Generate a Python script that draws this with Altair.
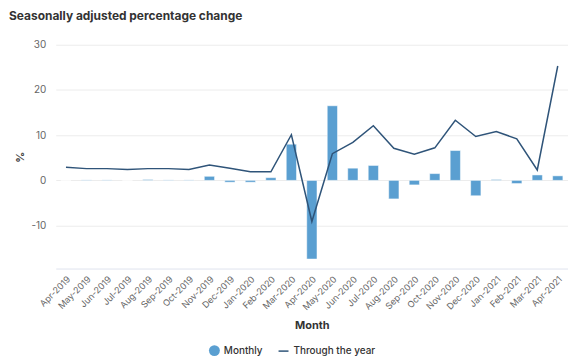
import altair as alt
import pandas as pd

months = ["Apr-2019", "May-2019", "Jun-2019", "Jul-2019", "Aug-2019", "Sep-2019",
          "Oct-2019", "Nov-2019", "Dec-2019", "Jan-2020", "Feb-2020", "Mar-2020",
          "Apr-2020", "May-2020", "Jun-2020", "Jul-2020", "Aug-2020", "Sep-2020",
          "Oct-2020", "Nov-2020", "Dec-2020", "Jan-2021", "Feb-2021", "Mar-2021",
          "Apr-2021"]
monthly = [0.0, 0.1, 0.1, 0.0, 0.2, 0.1, 0.1, 0.9, -0.4, -0.4, 0.6, 8.0,
           -17.4, 16.5, 2.7, 3.3, -4.1, -1.0, 1.5, 6.6, -3.4, 0.2, -0.7, 1.2, 1.0]
through_year = [2.9, 2.6, 2.6, 2.4, 2.6, 2.6, 2.4, 3.4, 2.7, 1.9, 1.9, 10.1,
                -9.1, 5.9, 8.4, 12.1, 7.1, 5.8, 7.2, 13.3, 9.7, 10.8, 9.2, 2.3, 25.3]

df = pd.DataFrame({
    "Month": months,
    "Monthly": monthly,
    "Through": through_year,
    "s1": ["Monthly"] * len(months),
    "s2": ["Through the year"] * len(months),
})

FONT = "Inter"
BAR = "#5a9fd1"
LINE = "#2f5479"

x_scale = alt.Scale(paddingInner=0.5, paddingOuter=0.25)
x = alt.X("Month:N", sort=months, title="Month", scale=x_scale,
          axis=alt.Axis(labelAngle=-45, labelFontSize=9, labelColor="#666666",
                        labelPadding=6, ticks=False, domainColor="#dfe3ee",
                        titleFontSize=11, titleFontWeight="bold", titleColor="#333333",
                        titlePadding=8, labelFont=FONT, titleFont=FONT))

y_scale = alt.Scale(domain=[-19.5, 30], nice=False)

bars = alt.Chart(df).mark_bar(stroke="white", strokeWidth=0.5).encode(
    x=x,
    y=alt.Y("Monthly:Q", scale=y_scale, title="%",
            axis=alt.Axis(values=[-10, 0, 10, 20, 30], domain=False, ticks=False,
                          labelExpr="'' + datum.value",
                          labelPadding=10, labelFontSize=10, labelColor="#666666",
                          gridColor="#ececec", titleFontSize=11, titleFontWeight="bold",
                          titleColor="#444444", titlePadding=5, labelFont=FONT,
                          titleFont=FONT)),
    fill=alt.Fill("s1:N", scale=alt.Scale(domain=["Monthly"], range=[BAR]),
                  legend=alt.Legend(title=None, orient="none", legendX=154, legendY=302,
                                    symbolType="circle",
                                    symbolSize=120, labelFontSize=10, labelFont=FONT,
                                    labelFontWeight=500,
                                    labelColor="#333333", symbolStrokeWidth=0)),
)

line = alt.Chart(df).mark_line(strokeWidth=1.5).encode(
    x=alt.X("Month:N", sort=months, scale=x_scale),
    y=alt.Y("Through:Q", scale=y_scale),
    stroke=alt.Stroke("s2:N", scale=alt.Scale(domain=["Through the year"], range=[LINE]),
                      legend=alt.Legend(title=None, orient="none", legendX=223, legendY=302,
                                        symbolType="stroke",
                                        labelFontSize=10, labelFont=FONT,
                                        labelFontWeight=500,
                                        labelColor="#333333", symbolStrokeWidth=1.5)),
)

chart = alt.layer(bars, line).properties(
    width=515,
    height=225,
    autosize=alt.AutoSizeParams(type="none"),
    padding={"left": 48, "top": 36, "right": 0, "bottom": 90},
    title=alt.TitleParams("Seasonally adjusted percentage change", anchor="start",
                          frame="bounds", fontSize=12, fontWeight="bold",
                          color="#333333", font=FONT, dy=-3, dx=-6, offset=14),
).configure_view(stroke=None).configure_legend(
    direction="horizontal"
)

chart.save("out.html", embed_options={"renderer": "svg", "actions": False})
